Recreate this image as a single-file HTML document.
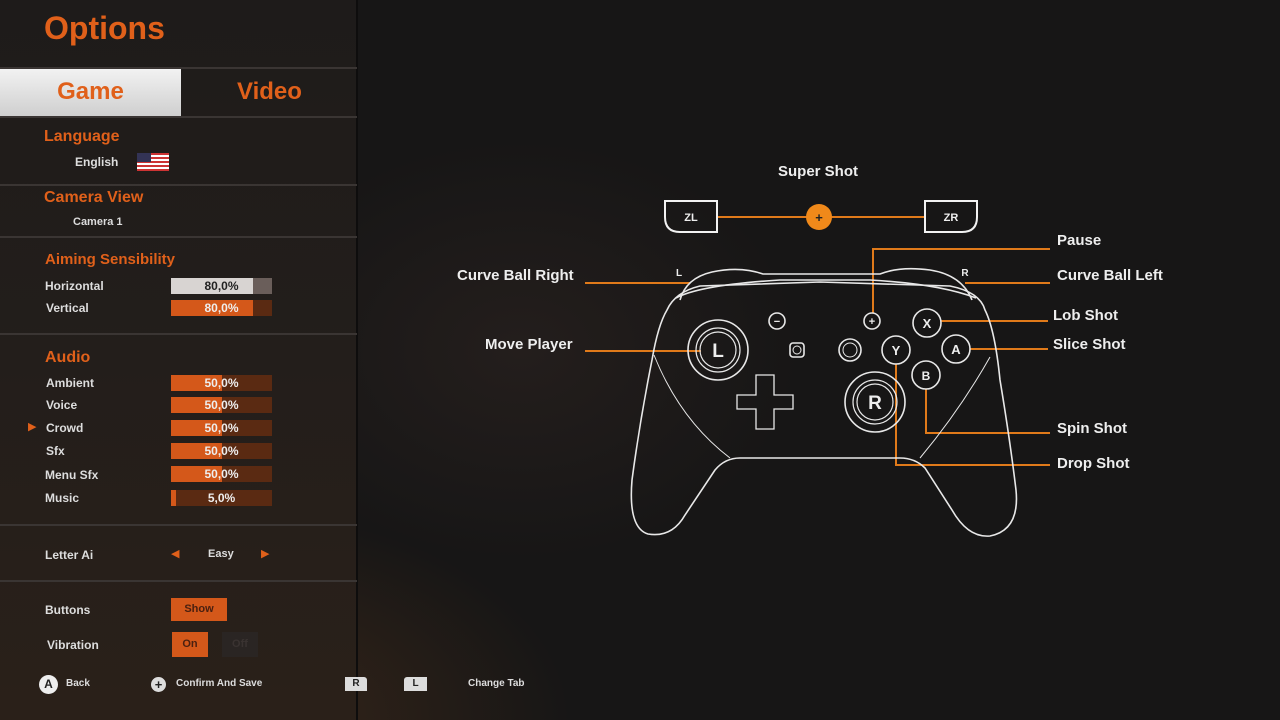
<!DOCTYPE html>
<html><head><meta charset="utf-8"><style>
*{margin:0;padding:0;box-sizing:border-box}
body{width:1280px;height:720px;overflow:hidden;background:#161515;font-family:"Liberation Sans","DejaVu Sans",sans-serif;font-weight:bold;position:relative}
#bg{position:absolute;inset:0;background:radial-gradient(ellipse 500px 300px at 220px 720px,rgba(120,70,30,.35),transparent 70%),radial-gradient(ellipse 400px 300px at 520px 350px,rgba(60,45,40,.35),transparent 70%),#171616}
#panel{position:absolute;left:0;top:0;width:358px;height:720px;background:linear-gradient(180deg,#1e1b1a 0%,#231e1b 50%,#2a2019 100%);border-right:2px solid #0e0d0d}
.a{position:absolute;white-space:nowrap}
.o{color:#e0601a}
.w{color:#e6e6e6}
.hr{position:absolute;left:0;width:357px;height:2px;background:#3a3533}
.bar{position:absolute;left:171px;width:101px;height:16px;background:#5a2a12}
.bar i{position:absolute;left:0;top:0;bottom:0;background:#d4581a}
.bar span{position:absolute;left:0;right:0;top:0;text-align:center;color:#eee;font-size:12px;line-height:16px;padding-left:0}
.lbl{font-size:12px;color:#ddd}
.rl{position:absolute;color:#eee;font-size:15px;white-space:nowrap}
</style></head><body>
<div id="bg"></div>
<div id="panel"></div>
<div class="a o" style="left:44px;top:10px;font-size:32px">Options</div>
<div class="hr" style="top:67px"></div>
<div class="a" style="left:0;top:69px;width:181px;height:47px;background:linear-gradient(180deg,#f2f2f2,#cfcfcf);"></div>
<div class="a o" style="left:0;top:78px;width:181px;text-align:center;font-size:24px">Game</div>
<div class="a o" style="left:181px;top:78px;width:177px;text-align:center;font-size:24px">Video</div>
<div class="hr" style="top:116px"></div>
<div class="a o" style="left:44px;top:128px;font-size:16px">Language</div>
<div class="a lbl" style="left:75px;top:155px">English</div>
<div class="a" style="left:137px;top:153px;width:32px;height:18px;background:repeating-linear-gradient(180deg,#c33 0 2px,#fff 2px 4px)"><div style="width:14px;height:9px;background:#335"></div></div>
<div class="hr" style="top:184px"></div>
<div class="a o" style="left:44px;top:189px;font-size:16px">Camera View</div>
<div class="a lbl" style="left:73px;top:216px;font-size:11px">Camera 1</div>
<div class="hr" style="top:236px"></div>
<div class="a o" style="left:45px;top:251px;font-size:15px">Aiming Sensibility</div>
<div class="a lbl" style="left:45px;top:279px">Horizontal</div>
<div class="bar" style="top:278px;background:#6a5e5a"><i style="width:82px;background:#d8d4d2"></i><span style="color:#222">80,0%</span></div>
<div class="a lbl" style="left:46px;top:301px">Vertical</div>
<div class="bar" style="top:300px"><i style="width:82px"></i><span>80,0%</span></div>
<div class="hr" style="top:333px"></div>
<div class="a o" style="left:45px;top:349px;font-size:16px">Audio</div>
<div class="a lbl" style="left:46px;top:376px">Ambient</div>
<div class="bar" style="top:375px"><i style="width:51px"></i><span>50,0%</span></div>
<div class="a lbl" style="left:46px;top:398px">Voice</div>
<div class="bar" style="top:397px"><i style="width:51px"></i><span>50,0%</span></div>
<div class="a o" style="left:28px;top:420px;font-size:11px">▶</div>
<div class="a lbl" style="left:46px;top:421px">Crowd</div>
<div class="bar" style="top:420px"><i style="width:51px"></i><span>50,0%</span></div>
<div class="a lbl" style="left:46px;top:444px">Sfx</div>
<div class="bar" style="top:443px"><i style="width:51px"></i><span>50,0%</span></div>
<div class="a lbl" style="left:45px;top:468px">Menu Sfx</div>
<div class="bar" style="top:466px"><i style="width:51px"></i><span>50,0%</span></div>
<div class="a lbl" style="left:45px;top:491px">Music</div>
<div class="bar" style="top:490px"><i style="width:5px"></i><span>5,0%</span></div>
<div class="hr" style="top:524px"></div>
<div class="a lbl" style="left:45px;top:548px">Letter Ai</div>
<div class="a o" style="left:171px;top:547px;font-size:11px">◀</div>
<div class="a lbl" style="left:208px;top:548px;font-size:11px">Easy</div>
<div class="a o" style="left:261px;top:547px;font-size:11px">▶</div>
<div class="hr" style="top:580px"></div>
<div class="a lbl" style="left:45px;top:603px">Buttons</div>
<div class="a" style="left:171px;top:598px;width:56px;height:23px;background:#d4581a;color:#4a2010;font-size:11px;text-align:center;line-height:22px">Show</div>
<div class="a lbl" style="left:47px;top:638px">Vibration</div>
<div class="a" style="left:172px;top:632px;width:36px;height:25px;background:#d4581a;color:#4a2010;font-size:11px;text-align:center;line-height:24px">On</div>
<div class="a" style="left:222px;top:632px;width:36px;height:25px;background:#2a2523;color:#3a3331;font-size:11px;text-align:center;line-height:24px">Off</div>
<div class="a" style="left:39px;top:675px;width:19px;height:19px;border-radius:50%;background:#eee;color:#222;font-size:12px;text-align:center;line-height:19px">A</div>
<div class="a lbl" style="left:66px;top:678px;font-size:10px">Back</div>
<div class="a" style="left:151px;top:677px;width:15px;height:15px;border-radius:50%;background:#ddd;color:#222;font-size:13px;text-align:center;line-height:15px">+</div>
<div class="a lbl" style="left:176px;top:678px;font-size:10px">Confirm And Save</div>
<div class="a" style="left:345px;top:677px;width:22px;height:14px;background:#ddd;color:#222;font-size:10px;text-align:center;line-height:14px;border-radius:0 3px 0 0">R</div>
<div class="a" style="left:404px;top:677px;width:23px;height:14px;background:#ddd;color:#222;font-size:10px;text-align:center;line-height:14px;border-radius:3px 0 0 0">L</div>
<div class="a lbl" style="left:468px;top:678px;font-size:10px">Change Tab</div>

<svg width="1280" height="720" style="position:absolute;left:0;top:0" fill="none">
<g stroke="#e07a1a" stroke-width="2">
<line x1="717" y1="217" x2="925" y2="217"/>
<line x1="585" y1="283" x2="690" y2="283"/>
<line x1="965" y1="283" x2="1050" y2="283"/>
<polyline points="873,313 873,249 1050,249"/>
<line x1="941" y1="321" x2="1048" y2="321"/>
<line x1="970" y1="349" x2="1048" y2="349"/>
<line x1="585" y1="351" x2="701" y2="351"/>
<polyline points="926,389 926,433 1050,433"/>
<polyline points="896,364 896,465 1050,465"/>
</g>
<circle cx="819" cy="217" r="13" fill="#f0891a"/>
<text x="819" y="222" fill="#222" font-size="13" text-anchor="middle" font-family="Liberation Sans" font-weight="bold">+</text>
<g stroke="#f2f2f2" stroke-width="2">
<path d="M665,201 H717 V232 H680 Q665,232 665,217 Z"/>
<path d="M925,201 H977 V217 Q977,232 962,232 H925 Z"/>
</g>
<g stroke="#e8e8e8" stroke-width="1.6">
<path d="M680,300 Q686,278 712,272 Q740,266 763,274 L880,274 Q900,266 930,270 Q962,275 972,300"/>
<path d="M676,298 Q700,285 780,280 L870,280 Q940,284 976,298"/>
<path d="M667,310 Q675,292 700,286 L820,282 L950,286 Q980,292 985,310 Q995,330 1000,380 Q1010,440 1016,490 Q1020,530 990,536 Q968,538 952,510 L925,468 Q915,458 900,458 L740,458 Q725,458 715,470 L685,515 Q672,538 648,534 Q628,528 632,480 Q640,420 652,360 Q658,325 667,310 Z"/>
<path d="M654,355 Q680,420 730,458" stroke-width="1"/>
<path d="M990,357 Q960,410 920,458" stroke-width="1"/>
<circle cx="718" cy="350" r="30"/><circle cx="718" cy="350" r="22" stroke-width="1.2"/><circle cx="718" cy="350" r="18" stroke-width="1.2"/>
<circle cx="875" cy="402" r="30"/><circle cx="875" cy="402" r="22" stroke-width="1.2"/><circle cx="875" cy="402" r="18" stroke-width="1.2"/>
<circle cx="777" cy="321" r="8"/><circle cx="872" cy="321" r="8"/>
<rect x="790" y="343" width="14" height="14" rx="3"/><circle cx="797" cy="350" r="4" stroke-width="1"/>
<circle cx="850" cy="350" r="11"/><circle cx="850" cy="350" r="7" stroke-width="1"/>
<circle cx="927" cy="323" r="14"/><circle cx="896" cy="350" r="14"/><circle cx="956" cy="349" r="14"/><circle cx="926" cy="375" r="14"/>
<path d="M756,375 H774 V395 H793 V409 H774 V429 H756 V409 H737 V395 H756 Z" stroke-width="1.3"/>
</g>
<g fill="#eee" font-family="Liberation Sans" font-weight="bold" text-anchor="middle">
<text x="718" y="357" font-size="19">L</text>
<text x="875" y="409" font-size="19">R</text>
<text x="927" y="328" font-size="13">X</text>
<text x="896" y="355" font-size="13">Y</text>
<text x="956" y="354" font-size="13">A</text>
<text x="926" y="380" font-size="12">B</text>
<text x="691" y="221" font-size="11">ZL</text>
<text x="951" y="221" font-size="11">ZR</text>
<text x="679" y="276" font-size="10">L</text>
<text x="965" y="276" font-size="10">R</text>
<text x="777" y="325" font-size="11">−</text>
<text x="872" y="325" font-size="11">+</text>
</g>
</svg>
<div class="rl" style="left:778px;top:163px">Super Shot</div>
<div class="rl" style="left:457px;top:267px">Curve Ball Right</div>
<div class="rl" style="left:485px;top:336px">Move Player</div>
<div class="rl" style="left:1057px;top:232px">Pause</div>
<div class="rl" style="left:1057px;top:267px">Curve Ball Left</div>
<div class="rl" style="left:1053px;top:307px">Lob Shot</div>
<div class="rl" style="left:1053px;top:336px">Slice Shot</div>
<div class="rl" style="left:1057px;top:420px">Spin Shot</div>
<div class="rl" style="left:1057px;top:455px">Drop Shot</div>
</body></html>
